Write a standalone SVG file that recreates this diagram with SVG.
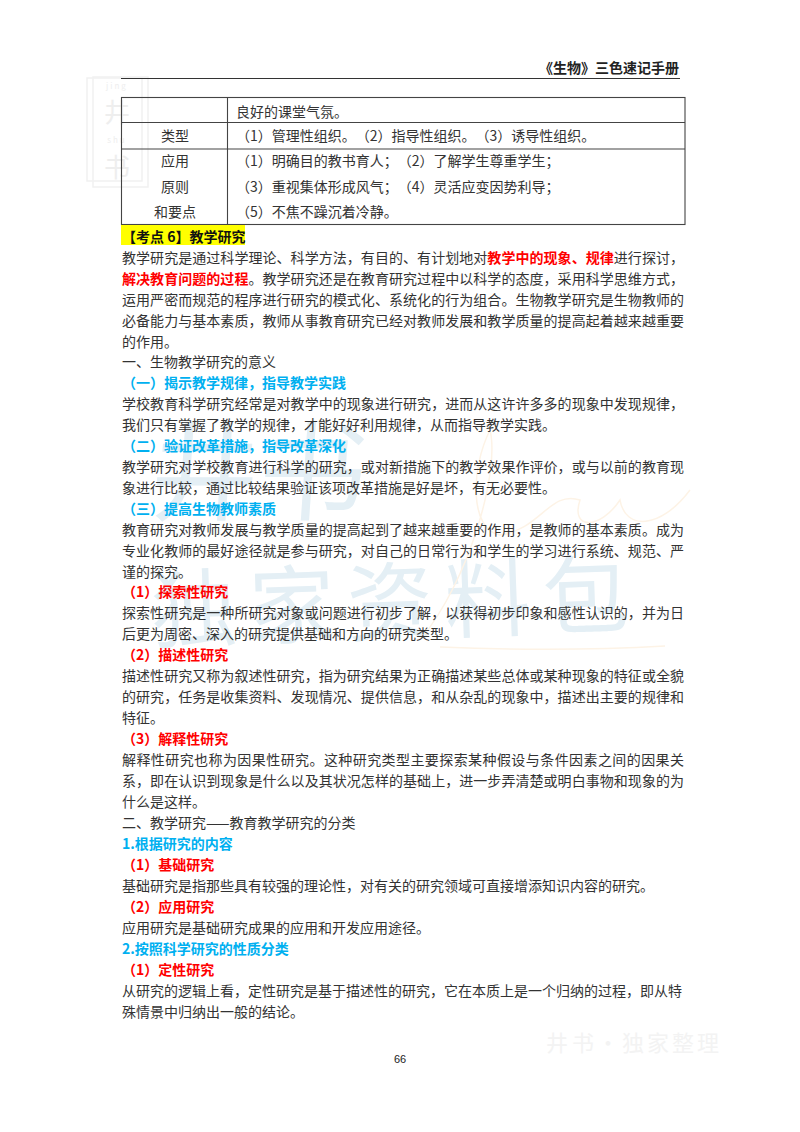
<svg xmlns="http://www.w3.org/2000/svg" width="800" height="1132" viewBox="0 0 800 1132">
<style>
text{font-family:"Noto Sans CJK SC","Noto Sans",sans-serif;font-size:14px;fill:#333;text-spacing-trim:space-all}
.b{font-weight:700;fill:#00b0f0}
.r{font-weight:700;fill:#f00}
tspan.r{fill:#f00}
.c{text-anchor:middle}
.tl{stroke:#444;stroke-width:1.1;fill:none}
.wm{fill:#e4eff5}
.st{fill:#eeeeee}
.sb{fill:none;stroke:#f1f1f1;stroke-width:1.5}
.sc{fill:none;stroke:#fdf3e6;stroke-width:1.5}
</style>
<rect width="800" height="1132" fill="#fff"/>
<g id="watermarks">
<rect class="sb" x="87" y="78" width="55" height="103"/>
<rect class="sb" x="93" y="77" width="55" height="110"/>
<text x="117" y="89" class="c st" style="font-size:8px;letter-spacing:2px">jing</text>
<text x="117" y="122" class="c st" style="font-size:26px">井</text>
<text x="117" y="143" class="c st" style="font-size:8px;letter-spacing:2px">shu</text>
<text x="117" y="177" class="c st" style="font-size:26px">书</text>
<text x="148" y="512" class="wm" style="font-size:108px" transform="skewX(-4)" dx="36">井书</text>
<text x="152" y="642" class="wm" style="font-size:86px;letter-spacing:12px" transform="rotate(-2 152 642)">独家资料包</text>
<path class="sc" d="M420 640C470 580 500 470 490 430C470 470 470 530 500 535C540 530 550 490 580 500C570 530 600 530 620 500C625 530 660 530 690 490"/>
<path class="sc" d="M440 647Q560 652 665 646"/>
<text x="546 572 597 622 647 672 697" y="1051" style="font-size:22px;fill:#f3f3f3">井书·独家整理</text>
</g>
<g id="header">
<text x="679" y="73" text-anchor="end" style="font-weight:700;fill:#222">《生物》三色速记手册</text>
<path d="M121 78.500H680" stroke="#333" stroke-width="1" fill="none"/>
</g>
<g id="table">
<rect class="tl" x="121.500" y="97.500" width="563.500" height="127"/>
<path class="tl" d="M122 122.500H685M122 149H685M227.500 97V225"/>
<text x="236" y="117">良好的课堂气氛。</text>
<text x="175" y="141" class="c">类型</text>
<text x="236" y="141">（1）管理性组织。（2）指导性组织。（3）诱导性组织。</text>
<text x="175" y="166" class="c">应用</text>
<text x="236" y="166">（1）明确目的教书育人；（2）了解学生尊重学生；</text>
<text x="175" y="192" class="c">原则</text>
<text x="236" y="192">（3）重视集体形成风气；（4）灵活应变因势利导；</text>
<text x="175" y="217" class="c">和要点</text>
<text x="236" y="217">（5）不焦不躁沉着冷静。</text>
</g>
<g id="body">
<rect x="121" y="225" width="124" height="20" fill="#ff0"/>
<text x="122" y="242" style="font-weight:700;fill:#111">【考点 6】教学研究</text>
<text x="122" y="263" textLength="562"><tspan>教学研究是通过科学理论、科学方法，有目的、有计划地对</tspan><tspan class="r">教学中的现象、规律</tspan><tspan>进行探讨，</tspan></text>
<text x="122" y="284" textLength="562"><tspan class="r">解决教育问题的过程</tspan><tspan>。教学研究还是在教育研究过程中以科学的态度，采用科学思维方式，</tspan></text>
<text x="122" y="305" textLength="562">运用严密而规范的程序进行研究的模式化、系统化的行为组合。生物教学研究是生物教师的</text>
<text x="122" y="326" textLength="562">必备能力与基本素质，教师从事教育研究已经对教师发展和教学质量的提高起着越来越重要</text>
<text x="122" y="347">的作用。</text>
<text x="122" y="367">一、生物教学研究的意义</text>
<text x="122" y="388" class="b">（一）揭示教学规律，指导教学实践</text>
<text x="122" y="409" textLength="562">学校教育科学研究经常是对教学中的现象进行研究，进而从这许许多多的现象中发现规律，</text>
<text x="122" y="430">我们只有掌握了教学的规律，才能好好利用规律，从而指导教学实践。</text>
<text x="122" y="451" class="b">（二）验证改革措施，指导改革深化</text>
<text x="122" y="472" textLength="562">教学研究对学校教育进行科学的研究，或对新措施下的教学效果作评价，或与以前的教育现</text>
<text x="122" y="493">象进行比较，通过比较结果验证该项改革措施是好是坏，有无必要性。</text>
<text x="122" y="514" class="b">（三）提高生物教师素质</text>
<text x="122" y="535" textLength="562">教育研究对教师发展与教学质量的提高起到了越来越重要的作用，是教师的基本素质。成为</text>
<text x="122" y="556" textLength="562">专业化教师的最好途径就是参与研究，对自己的日常行为和学生的学习进行系统、规范、严</text>
<text x="122" y="577">谨的探究。</text>
<text x="122" y="597" class="r">（1）探索性研究</text>
<text x="122" y="618" textLength="562">探索性研究是一种所研究对象或问题进行初步了解，以获得初步印象和感性认识的，并为日</text>
<text x="122" y="639">后更为周密、深入的研究提供基础和方向的研究类型。</text>
<text x="122" y="660" class="r">（2）描述性研究</text>
<text x="122" y="681" textLength="562">描述性研究又称为叙述性研究，指为研究结果为正确描述某些总体或某种现象的特征或全貌</text>
<text x="122" y="702" textLength="562">的研究，任务是收集资料、发现情况、提供信息，和从杂乱的现象中，描述出主要的规律和</text>
<text x="122" y="723">特征。</text>
<text x="122" y="744" class="r">（3）解释性研究</text>
<text x="122" y="765" textLength="562">解释性研究也称为因果性研究。这种研究类型主要探索某种假设与条件因素之间的因果关</text>
<text x="122" y="786" textLength="562">系，即在认识到现象是什么以及其状况怎样的基础上，进一步弄清楚或明白事物和现象的为</text>
<text x="122" y="807">什么是这样。</text>
<text x="122" y="828">二、教学研究——教育教学研究的分类</text>
<text x="122" y="849" class="b">1.根据研究的内容</text>
<text x="122" y="870" class="r">（1）基础研究</text>
<text x="122" y="891">基础研究是指那些具有较强的理论性，对有关的研究领域可直接增添知识内容的研究。</text>
<text x="122" y="912" class="r">（2）应用研究</text>
<text x="122" y="933">应用研究是基础研究成果的应用和开发应用途径。</text>
<text x="122" y="954" class="b">2.按照科学研究的性质分类</text>
<text x="122" y="975" class="r">（1）定性研究</text>
<text x="122" y="996">从研究的逻辑上看，定性研究是基于描述性的研究，它在本质上是一个归纳的过程，即从特</text>
<text x="122" y="1017">殊情景中归纳出一般的结论。</text>
</g>
<text id="page" x="400" y="1063" class="c" style="font-family:'Liberation Sans',sans-serif;font-size:11px;fill:#222">66</text>
</svg>
